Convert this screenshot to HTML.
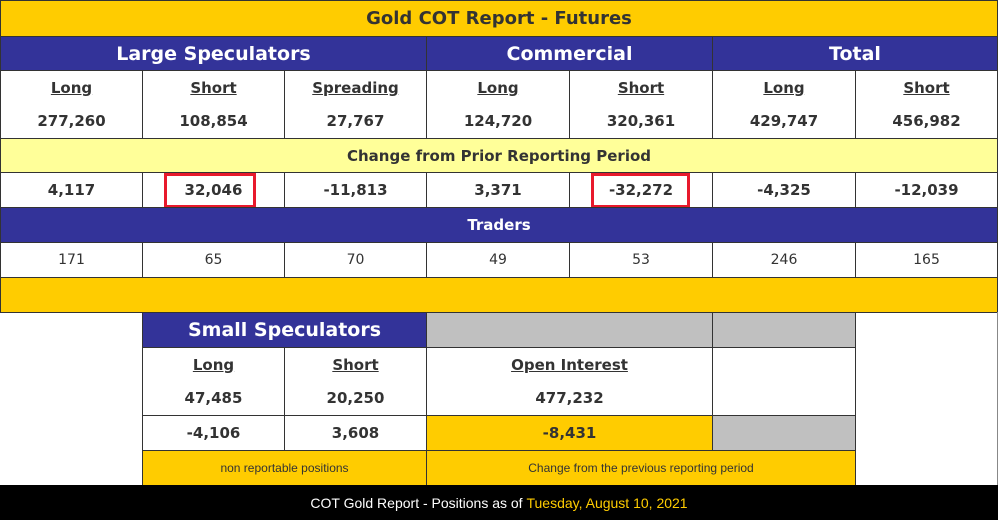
<!DOCTYPE html>
<html><head><meta charset="utf-8"><style>
body{margin:0;width:1000px;height:524px;background:#fff;position:relative;overflow:hidden;font-family:"DejaVu Sans","Liberation Sans",sans-serif;}
.c{position:absolute;box-sizing:border-box;border:1px solid #333;display:flex;align-items:center;justify-content:center;color:#333;font-weight:bold;font-size:15px;white-space:nowrap;}
.y{background:#FFCC00}.b{background:#333399;color:#fff;font-size:19px}.ly{background:#FFFF99;font-size:15px}.g{background:#C0C0C0}
.u{text-decoration:underline}
.n{font-weight:normal;font-size:14px}
.nar{font-family:"Liberation Sans Narrow","Liberation Sans",sans-serif;}
.red{position:absolute;box-sizing:border-box;border:3px solid #e8192c;}
</style></head><body>
<div class="c y" style="left:0;top:0;width:998px;height:37px;font-size:18px">Gold COT Report - Futures</div>
<div class="c b" style="left:0;top:36px;width:427px;height:35px">Large Speculators</div>
<div class="c b" style="left:426px;top:36px;width:287px;height:35px">Commercial</div>
<div class="c b" style="left:712px;top:36px;width:286px;height:35px">Total</div>

<div class="c u" style="left:0;top:70px;width:143px;height:35px;border-bottom:none">Long</div>
<div class="c u" style="left:142px;top:70px;width:143px;height:35px;border-bottom:none">Short</div>
<div class="c u" style="left:284px;top:70px;width:143px;height:35px;border-bottom:none">Spreading</div>
<div class="c u" style="left:426px;top:70px;width:144px;height:35px;border-bottom:none">Long</div>
<div class="c u" style="left:569px;top:70px;width:144px;height:35px;border-bottom:none">Short</div>
<div class="c u" style="left:712px;top:70px;width:144px;height:35px;border-bottom:none">Long</div>
<div class="c u" style="left:855px;top:70px;width:143px;height:35px;border-bottom:none">Short</div>

<div class="c" style="left:0;top:104px;width:143px;height:35px;border-top:none">277,260</div>
<div class="c" style="left:142px;top:104px;width:143px;height:35px;border-top:none">108,854</div>
<div class="c" style="left:284px;top:104px;width:143px;height:35px;border-top:none">27,767</div>
<div class="c" style="left:426px;top:104px;width:144px;height:35px;border-top:none">124,720</div>
<div class="c" style="left:569px;top:104px;width:144px;height:35px;border-top:none">320,361</div>
<div class="c" style="left:712px;top:104px;width:144px;height:35px;border-top:none">429,747</div>
<div class="c" style="left:855px;top:104px;width:143px;height:35px;border-top:none">456,982</div>

<div class="c ly" style="left:0;top:138px;width:998px;height:35px">Change from Prior Reporting Period</div>

<div class="c" style="left:0;top:172px;width:143px;height:36px">4,117</div>
<div class="c" style="left:142px;top:172px;width:143px;height:36px">32,046</div>
<div class="c" style="left:284px;top:172px;width:143px;height:36px">-11,813</div>
<div class="c" style="left:426px;top:172px;width:144px;height:36px">3,371</div>
<div class="c" style="left:569px;top:172px;width:144px;height:36px">-32,272</div>
<div class="c" style="left:712px;top:172px;width:144px;height:36px">-4,325</div>
<div class="c" style="left:855px;top:172px;width:143px;height:36px">-12,039</div>
<div class="red" style="left:164px;top:173px;width:92px;height:35px"></div>
<div class="red" style="left:591px;top:173px;width:99px;height:35px"></div>

<div class="c b" style="left:0;top:207px;width:998px;height:36px;font-size:15px">Traders</div>

<div class="c n" style="left:0;top:242px;width:143px;height:36px">171</div>
<div class="c n" style="left:142px;top:242px;width:143px;height:36px">65</div>
<div class="c n" style="left:284px;top:242px;width:143px;height:36px">70</div>
<div class="c n" style="left:426px;top:242px;width:144px;height:36px">49</div>
<div class="c n" style="left:569px;top:242px;width:144px;height:36px">53</div>
<div class="c n" style="left:712px;top:242px;width:144px;height:36px">246</div>
<div class="c n" style="left:855px;top:242px;width:143px;height:36px">165</div>

<div class="c y" style="left:0;top:277px;width:998px;height:36px"></div>

<div class="c b" style="left:142px;top:312px;width:285px;height:36px;font-size:19px">Small Speculators</div>
<div class="c g" style="left:426px;top:312px;width:287px;height:36px"></div>
<div class="c g" style="left:712px;top:312px;width:144px;height:36px"></div>
<div class="c" style="left:855px;top:312px;width:143px;height:174px;border-left:1px solid #333;border-top:none;border-bottom:none;border-right:1px solid #888"></div>

<div class="c u" style="left:142px;top:347px;width:143px;height:35px;border-bottom:none">Long</div>
<div class="c u" style="left:284px;top:347px;width:143px;height:35px;border-bottom:none">Short</div>
<div class="c u" style="left:426px;top:347px;width:287px;height:35px;border-bottom:none">Open Interest</div>
<div class="c" style="left:712px;top:347px;width:144px;height:69px"></div>
<div class="c" style="left:142px;top:381px;width:143px;height:35px;border-top:none">47,485</div>
<div class="c" style="left:284px;top:381px;width:143px;height:35px;border-top:none">20,250</div>
<div class="c" style="left:426px;top:381px;width:287px;height:35px;border-top:none">477,232</div>

<div class="c" style="left:142px;top:415px;width:143px;height:36px">-4,106</div>
<div class="c" style="left:284px;top:415px;width:143px;height:36px">3,608</div>
<div class="c y" style="left:426px;top:415px;width:287px;height:36px">-8,431</div>
<div class="c g" style="left:712px;top:415px;width:144px;height:36px"></div>

<div class="c y n nar" style="left:142px;top:450px;width:285px;height:36px;font-size:12px">non reportable positions</div>
<div class="c y n nar" style="left:426px;top:450px;width:430px;height:36px;font-size:12px">Change from the previous reporting period</div>

<div style="position:absolute;left:0;top:485px;width:998px;height:35px;background:#000;color:#fff;display:flex;align-items:center;justify-content:center;font-size:14px;font-family:'Liberation Sans',sans-serif">COT Gold Report - Positions as of&nbsp;<span style="color:#FFCC00">Tuesday, August 10, 2021</span></div>
</body></html>
